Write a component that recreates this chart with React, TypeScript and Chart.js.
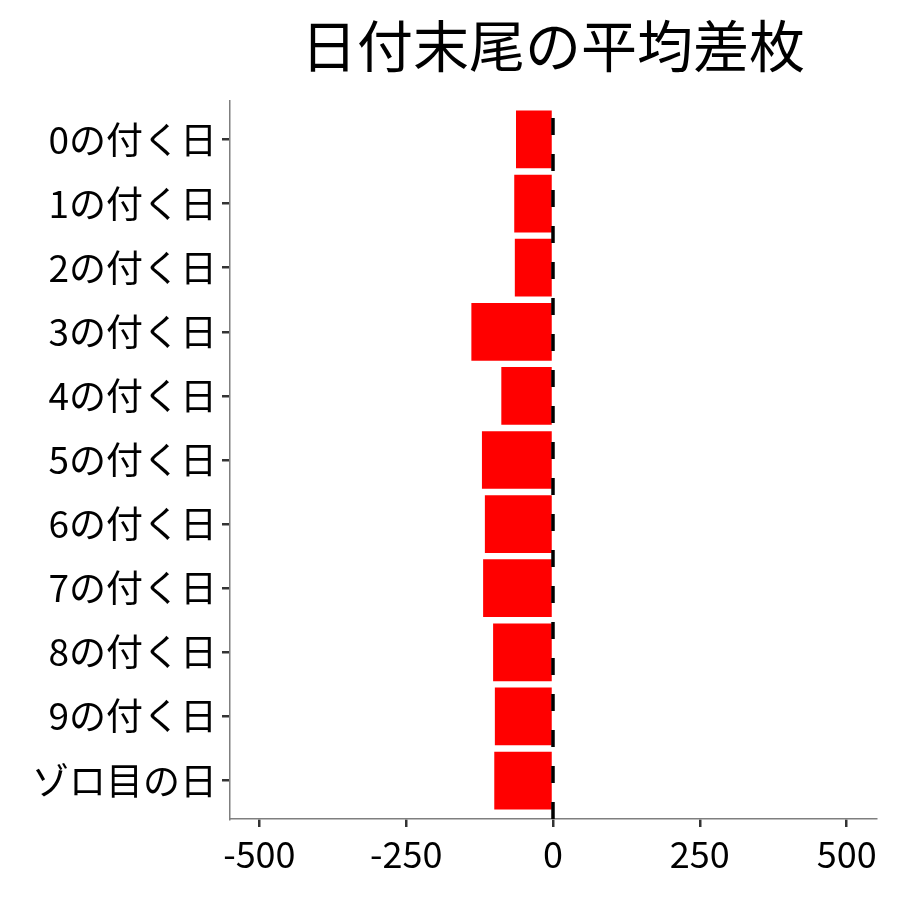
import * as React from 'react';
import { Chart, registerables } from 'chart.js';

Chart.register(...registerables);

const titleText = '日付末尾の平均差枚';
const categories = ['0の付く日', '1の付く日', '2の付く日', '3の付く日', '4の付く日', '5の付く日', '6の付く日', '7の付く日', '8の付く日', '9の付く日', 'ゾロ目の日'];
const avgDiff = [-63, -66, -65, -139, -88, -121, -116, -119, -102, -99, -100];
const xTicks = [-500, -250, 0, 250, 500];

const FONT = '"Noto Sans CJK JP", "Noto Sans", sans-serif';

const extras = {
    id: 'extras',
    afterDatasetsDraw(chart: any) {
        const { ctx, chartArea, scales } = chart;
        const x0 = scales.x.getPixelForValue(0);
        ctx.save();
        ctx.strokeStyle = '#000';
        ctx.lineWidth = 3.5;
        ctx.setLineDash([17, 19]);
        ctx.beginPath();
        ctx.moveTo(x0, chartArea.bottom);
        ctx.lineTo(x0, chartArea.top);
        ctx.stroke();
        ctx.restore();

        ctx.save();
        ctx.fillStyle = '#000';
        ctx.font = `56px ${FONT}`;
        ctx.textAlign = 'center';
        ctx.textBaseline = 'middle';
        ctx.fillText(titleText, (chartArea.left + chartArea.right) / 2, 46);
        ctx.restore();
    }
};

export default function App() {
    const canvasRef = React.useRef<HTMLCanvasElement>(null);

    React.useEffect(() => {
        if (!canvasRef.current) return;
        const chart = new Chart(canvasRef.current, {
            type: 'bar',
            data: {
                datasets: [{
                    data: avgDiff.map((v, i) => ({ x: v, y: i })),
                    backgroundColor: '#ff0000',
                    borderWidth: 0,
                    barPercentage: 0.9,
                    categoryPercentage: 1.0
                }]
            },
            options: {
                indexAxis: 'y',
                animation: false,
                responsive: false,
                layout: { padding: { top: 101, right: 24, left: 0, bottom: 0 } },
                plugins: {
                    legend: { display: false },
                    tooltip: { enabled: false },
                    title: { display: false }
                },
                scales: {
                    x: {
                        type: 'linear',
                        min: -550,
                        max: 550,
                        afterBuildTicks: (scale: any) => {
                            scale.ticks = xTicks.map(v => ({ value: v }));
                        },
                        afterFit: (scale: any) => {
                            scale.height = 81;
                        },
                        ticks: {
                            color: '#000',
                            font: { family: FONT, size: 36 },
                            padding: 6,
                            maxRotation: 0
                        },
                        grid: {
                            drawOnChartArea: false,
                            drawTicks: true,
                            tickLength: 8,
                            tickColor: '#333',
                            lineWidth: 2.5
                        },
                        border: { display: true, color: '#7f7f7f', width: 1.5 }
                    },
                    y: {
                        type: 'linear',
                        reverse: true,
                        offset: false,
                        min: -0.6,
                        max: categories.length - 0.4,
                        afterBuildTicks: (scale: any) => {
                            scale.ticks = categories.map((_, i) => ({ value: i }));
                        },
                        afterFit: (scale: any) => {
                            scale.width = 230;
                        },
                        ticks: {
                            color: '#000',
                            font: { family: FONT, size: 37 },
                            padding: 5,
                            callback: (v: any) => categories[v as number] ?? ''
                        },
                        grid: {
                            offset: false,
                            drawOnChartArea: false,
                            drawTicks: true,
                            tickLength: 8,
                            tickColor: '#333',
                            lineWidth: 2.5
                        },
                        border: { display: true, color: '#7f7f7f', width: 1.5 }
                    }
                }
            },
            plugins: [extras]
        } as any);
        return () => {
            chart.destroy();
        };
    }, []);

    return (
        <div style={{ position: 'absolute', left: 0, top: 0, width: 900, height: 900, background: '#fff' }}>
            <canvas ref={canvasRef} width={900} height={900}></canvas>
        </div>
    );
}
